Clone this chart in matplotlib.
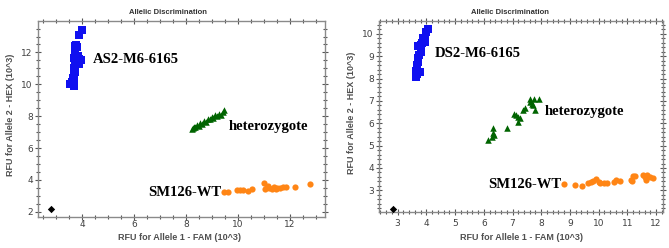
import matplotlib
matplotlib.use("Agg")
from matplotlib import pyplot as plt
from matplotlib.ticker import MultipleLocator

# left panel (AS2-M6-6165)
x_as2 = [4.0, 3.87, 3.78, 3.72, 3.82, 3.75, 3.85, 3.9, 3.95, 3.7, 3.8, 3.88, 3.72, 3.68, 3.75, 3.7, 3.65, 3.68, 3.6, 3.55, 3.68, 3.62]
y_as2 = [13.42, 13.08, 12.45, 12.4, 12.35, 11.9, 11.8, 11.6, 11.5, 11.65, 11.45, 11.3, 11.2, 11.0, 10.8, 10.6, 10.4, 10.25, 10.15, 10.0, 9.92, 10.05]
x_het1 = [8.23, 8.3, 8.35, 8.42, 8.5, 8.55, 8.62, 8.7, 8.78, 8.85, 8.92, 9.0, 9.05, 9.12, 9.2, 9.28, 9.35, 9.42, 9.47, 8.28]
y_het1 = [7.22, 7.35, 7.3, 7.45, 7.4, 7.55, 7.5, 7.7, 7.65, 7.85, 7.8, 7.95, 7.9, 8.05, 8.0, 8.15, 8.1, 8.25, 8.38, 7.28]
x_wt1 = [9.45, 9.6, 9.95, 10.08, 10.18, 10.38, 10.55, 11.02, 11.05, 11.1, 11.2, 11.3, 11.4, 11.5, 11.6, 11.72, 11.85, 12.2, 12.78, 11.15, 11.45]
y_wt1 = [3.25, 3.25, 3.35, 3.38, 3.35, 3.32, 3.42, 3.78, 3.45, 3.55, 3.5, 3.45, 3.55, 3.5, 3.48, 3.55, 3.58, 3.55, 3.75, 3.62, 3.42]
x_ntc1 = [2.82]
y_ntc1 = [2.18]

# right panel (DS2-M6-6165)
x_ds2 = [4.07, 4.0, 3.96, 3.9, 3.95, 3.85, 3.8, 3.78, 3.72, 3.82, 3.75, 3.72, 3.7, 3.68, 3.64, 3.78, 3.64, 3.68, 3.88]
y_ds2 = [10.2, 10.1, 9.75, 9.8, 9.65, 9.6, 9.5, 9.45, 9.45, 9.2, 9.05, 8.9, 8.75, 8.6, 8.35, 8.28, 8.08, 8.2, 9.7]
x_het2 = [6.16, 6.3, 6.33, 6.35, 6.33, 6.82, 7.05, 7.18, 7.12, 7.2, 7.25, 7.35, 7.42, 7.6, 7.62, 7.67, 7.7, 7.75, 7.78, 7.92]
y_het2 = [5.24, 5.4, 5.55, 5.46, 5.8, 5.8, 6.4, 6.05, 6.35, 6.3, 6.25, 6.6, 6.7, 6.95, 7.07, 6.85, 6.8, 7.1, 6.58, 7.08]
x_wt2 = [8.81, 9.16, 9.43, 9.62, 9.72, 9.82, 9.91, 10.0, 10.05, 10.17, 10.28, 10.55, 10.6, 10.75, 11.12, 11.18, 11.27, 11.55, 11.6, 11.65, 11.7, 11.8, 11.9, 11.15]
y_wt2 = [3.27, 3.22, 3.2, 3.32, 3.36, 3.4, 3.5, 3.38, 3.35, 3.33, 3.32, 3.38, 3.45, 3.43, 3.48, 3.62, 3.65, 3.68, 3.6, 3.45, 3.7, 3.6, 3.55, 3.4]
x_ntc2 = [2.85]
y_ntc2 = [2.17]

BLUE = "#1010f0"
GREEN = "#006400"
ORANGE = "#ff8515"
GRAY = "#8a8a8a"
LBL = "#505050"

fig = plt.figure(figsize=(6.69, 2.48), dpi=100)
ax1 = fig.add_axes([0.0568, 0.125, 0.429, 0.79])
ax2 = fig.add_axes([0.5665, 0.145, 0.4245, 0.77])


def style(ax, minor, xpad):
    for s in ax.spines.values():
        s.set_color(GRAY)
        s.set_linewidth(1.0)
    ax.xaxis.set_minor_locator(MultipleLocator(minor))
    ax.yaxis.set_minor_locator(MultipleLocator(minor))
    ax.tick_params(which="both", direction="inout", top=True, right=True,
                   color="#555555", labelsize=6.5, labelcolor="#404040", width=0.8)
    ax.tick_params(which="major", length=4.5, pad=1.5)
    ax.tick_params(which="minor", length=2.5)
    ax.tick_params(axis="x", which="major", pad=xpad)


def draw(ax, xb, yb, xh, yh, xw, yw, xn, yn):
    ax.scatter(xb, yb, marker="s", s=32, color=BLUE, linewidths=0, zorder=3)
    ax.scatter(xh, yh, marker="^", s=22, color=GREEN, linewidths=0, zorder=3)
    ax.scatter(xw, yw, marker="o", s=20, color=ORANGE, linewidths=0, zorder=3)
    ax.scatter(xn, yn, marker="D", s=14, color="black", linewidths=0, zorder=3)


draw(ax1, x_as2, y_as2, x_het1, y_het1, x_wt1, y_wt1, x_ntc1, y_ntc1)
ax1.set_xlim(2.31, 13.35)
ax1.set_ylim(1.67, 13.97)
ax1.set_xticks([4, 6, 8, 10, 12])
ax1.set_yticks([2, 4, 6, 8, 10, 12])
style(ax1, 0.5, 0.2)
lab = dict(family="Liberation Serif", fontweight="bold", fontsize=10.5, va="center")
ax1.text(4.42, 11.56, "AS2-M6-6165", **lab)
ax1.text(9.64, 7.35, "heterozygote", **lab)
ax1.text(9.35, 3.2, "SM126-WT", ha="right", **lab)

draw(ax2, x_ds2, y_ds2, x_het2, y_het2, x_wt2, y_wt2, x_ntc2, y_ntc2)
ax2.set_xlim(2.35, 12.24)
ax2.set_ylim(2.03, 10.57)
ax2.set_xticks(range(3, 13))
ax2.set_yticks(range(3, 11))
style(ax2, 0.2, 2.5)
ax2.text(4.28, 9.12, "DS2-M6-6165", **lab)
ax2.text(8.13, 6.54, "heterozygote", **lab)
ax2.text(8.71, 3.28, "SM126-WT", ha="right", **lab)

ax_font = dict(family="Liberation Sans", fontweight="bold", fontsize=6.5, color=LBL)
ttl = dict(family="Liberation Sans", fontweight="bold", fontsize=5.5, color="#333333",
           ha="center", va="center")
fig.text(168 / 669, 1 - 12 / 248, "Allelic Discrimination", **ttl)
fig.text(510 / 669, 1 - 12 / 248, "Allelic Discrimination", **ttl)
fig.text(180 / 669, 1 - 238 / 248, "RFU for Allele 1 - FAM (10^3)", ha="center", va="center", **ax_font)
fig.text(521 / 669, 1 - 237 / 248, "RFU for Allele 1 - FAM (10^3)", ha="center", va="center", **ax_font)
fig.text(11 / 669, 1 - 115 / 248, "RFU for Allele 2 - HEX (10^3)", ha="center", va="center",
         rotation=90, **ax_font)
fig.text(352 / 669, 1 - 113 / 248, "RFU for Allele 2 - HEX (10^3)", ha="center", va="center",
         rotation=90, **ax_font)

fig.savefig("out.png", dpi=100)
